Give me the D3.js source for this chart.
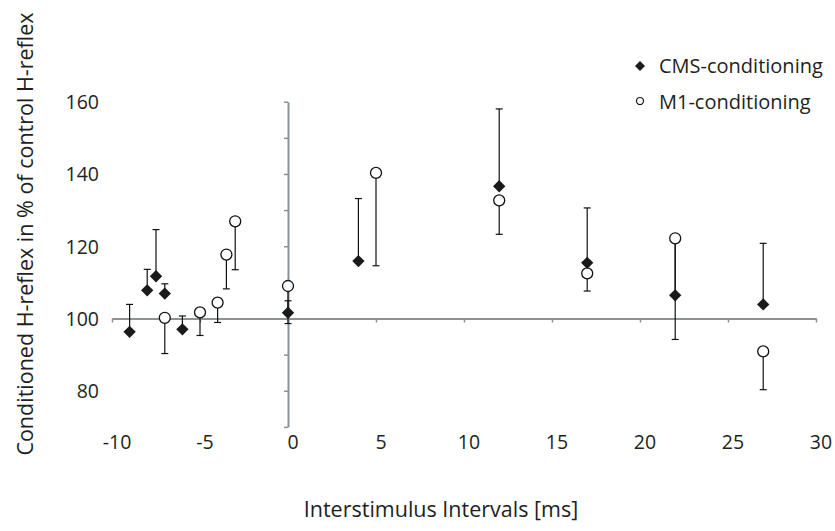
<!DOCTYPE html>
<html>
<head>
<meta charset="utf-8">
<script src="https://cdn.jsdelivr.net/npm/d3@7"></script>
<style>
  html, body { margin: 0; padding: 0; background: #fff; }
  svg { display: block; font-family: "Open Sans", sans-serif; }
</style>
</head>
<body>
<svg id="chart" width="835" height="531"></svg>
<script>
// ---- data ----
const xTickValues = [-10, -5, 0, 5, 10, 15, 20, 25, 30];
const yTickLabels = [80, 100, 120, 140, 160];
const yMinorTicks = [70, 80, 90, 100, 110, 120, 130, 140, 150, 160];

const cmsX   = [-9, -8, -7.5, -7, -6, 0, 4, 12, 17, 22, 27];
const cmsY   = [96.3, 107.8, 111.7, 106.9, 97.0, 101.6, 115.9, 136.6, 115.4, 106.4, 103.9];
const cmsErr = [7.6, 5.8, 12.9, 2.7, 3.7, 3.3, 17.3, 21.4, 15.2, 15.1, 16.9];   // upward bars

const m1X    = [-7, -5, -4, -3.5, -3, 0, 5, 12, 17, 22, 27];
const m1Y    = [100.2, 101.7, 104.4, 117.7, 126.9, 109.0, 140.3, 132.7, 112.5, 122.2, 90.9];
const m1Err  = [9.9, 6.4, 5.5, 9.5, 13.4, 10.4, 25.7, 9.4, 4.9, 28.0, 10.6];     // downward bars

const seriesNames = ["CMS-conditioning", "M1-conditioning"];
const xTitle = "Interstimulus Intervals [ms]";
const yTitle = "Conditioned H-reflex in % of control H-reflex";

// ---- build ----
const svg = d3.select("#chart");
const axisColor = "#8a9299";
const textColor = "#231f20";

const x = d3.scaleLinear().domain([-10, 30]).range([112, 816]);
const y = d3.scaleLinear().domain([70, 160]).range([426.9, 101.7]);

// horizontal axis crossing at 100
const xAxis = d3.axisBottom(x).tickValues(xTickValues).tickSize(4).tickSizeOuter(0).tickFormat("");
const gx = svg.append("g").attr("transform", `translate(0,${y(100)})`).call(xAxis);
// vertical axis crossing at 0
const yAxis = d3.axisLeft(y).tickValues(yMinorTicks).tickSize(4).tickSizeOuter(0).tickFormat("");
const gy = svg.append("g").attr("transform", `translate(${x(0)},0)`).call(yAxis);
[gx, gy].forEach(g => {
  g.select(".domain").attr("stroke", axisColor).attr("stroke-width", 2);
  g.selectAll(".tick line").attr("stroke", axisColor).attr("stroke-width", 1.5);
});

// tick labels at the low positions
svg.append("g").selectAll("text").data(xTickValues).join("text")
  .attr("x", d => x(d) + 5).attr("y", 441)
  .attr("text-anchor", "middle").attr("dominant-baseline", "central")
  .attr("font-size", 19.5).attr("fill", textColor)
  .text(d => d);
svg.append("g").selectAll("text").data(yTickLabels).join("text")
  .attr("x", 99).attr("y", d => y(d))
  .attr("text-anchor", "end").attr("dominant-baseline", "central")
  .attr("font-size", 19.5).attr("fill", textColor)
  .text(d => d);

// axis titles
svg.append("text").attr("x", 441).attr("y", 517)
  .attr("text-anchor", "middle").attr("font-size", 21.5).attr("fill", textColor)
  .text(xTitle);
svg.append("text")
  .attr("transform", `translate(33,234) rotate(-90)`)
  .attr("text-anchor", "middle").attr("font-size", 21.5).attr("fill", textColor)
  .text(yTitle);

const cms = cmsX.map((v, i) => ({x: v, y: cmsY[i], e: cmsY[i] + cmsErr[i]}));
const m1  = m1X.map((v, i) => ({x: v, y: m1Y[i], e: m1Y[i] - m1Err[i]}));

const capW = 3.5;
function errorBars(data) {
  const g = svg.append("g").attr("stroke", "#111").attr("stroke-width", 1.2);
  g.selectAll(".v").data(data).join("line")
    .attr("x1", d => x(d.x)).attr("x2", d => x(d.x))
    .attr("y1", d => y(d.y)).attr("y2", d => y(d.e));
  g.selectAll(".c").data(data).join("line")
    .attr("x1", d => x(d.x) - capW).attr("x2", d => x(d.x) + capW)
    .attr("y1", d => y(d.e)).attr("y2", d => y(d.e));
}
errorBars(cms);
errorBars(m1);

const circleSym = d3.symbol().type(d3.symbolCircle).size(95);
const diamondSym = d3.symbol().type(d3.symbolSquare).size(76);

svg.append("g").selectAll("path").data(m1).join("path")
  .attr("d", circleSym)
  .attr("transform", d => `translate(${x(d.x)},${y(d.y)})`)
  .attr("fill", "#fff").attr("stroke", "#111").attr("stroke-width", 1.3);
svg.append("g").selectAll("path").data(cms).join("path")
  .attr("d", diamondSym)
  .attr("transform", d => `translate(${x(d.x)},${y(d.y)}) rotate(45)`)
  .attr("fill", "#1a1a1a");

// legend
const lg = svg.append("g");
lg.append("path").attr("d", d3.symbol().type(d3.symbolSquare).size(50)())
  .attr("transform", "translate(640,66) rotate(45)").attr("fill", "#1a1a1a");
lg.append("path").attr("d", d3.symbol().type(d3.symbolCircle).size(38)())
  .attr("transform", "translate(640,101)").attr("fill", "#fff")
  .attr("stroke", "#111").attr("stroke-width", 1.2);
lg.selectAll("text").data(seriesNames).join("text")
  .attr("x", 659).attr("y", (d, i) => 72.5 + i * 36)
  .attr("font-size", 20).attr("fill", textColor)
  .text(d => d);
</script>
</body>
</html>
